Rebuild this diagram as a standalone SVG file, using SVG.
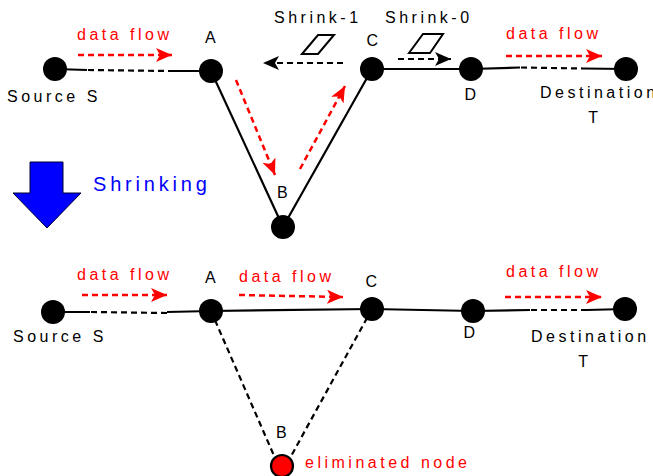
<svg xmlns="http://www.w3.org/2000/svg" width="653" height="476" viewBox="0 0 653 476">
  <style>
    .node { fill: #000; }
    .solid { stroke: #000; stroke-width: 2.2; fill: none; }
    .dash { stroke: #000; stroke-width: 2.2; fill: none; stroke-dasharray: 6 4; }
    .flow { stroke: #ff0000; stroke-width: 2.5; fill: none; stroke-dasharray: 6 4; marker-end: url(#redHead); }
    .shrink { stroke: #000; stroke-width: 2.2; fill: none; stroke-dasharray: 6 4; marker-end: url(#blackHead); }
    .lbl { font-family: "Liberation Sans", Arial, sans-serif; font-size: 16px; fill: #000; letter-spacing: 3.5px; }
    .red { fill: #ff0000; }
    .mid { text-anchor: middle; }
    .token { fill: #fff; stroke: #000; stroke-width: 2; }
  </style>
  <defs>
    <marker id="redHead" markerUnits="userSpaceOnUse" markerWidth="18" markerHeight="16" refX="16" refY="7" orient="auto">
      <path d="M0,0 L16,7 L0,14 L4,7 Z" fill="#ff0000"/>
    </marker>
    <marker id="blackHead" markerUnits="userSpaceOnUse" markerWidth="18" markerHeight="16" refX="16" refY="7" orient="auto">
      <path d="M0,0 L16,7 L0,14 L4,7 Z" fill="#000"/>
    </marker>
  </defs>
  <rect width="653" height="476" fill="#fff"/>

  <!-- ===== Before shrinking ===== -->
  <g id="links-top">
    <polyline class="solid" points="55,69 87,70"/>
    <line class="dash" x1="88" y1="70" x2="168" y2="71"/>
    <line class="solid" x1="168" y1="71" x2="211" y2="71"/>
    <line class="solid" x1="211" y1="71" x2="283" y2="227"/>
    <line class="solid" x1="283" y1="227" x2="372" y2="69"/>
    <line class="solid" x1="372" y1="69" x2="471" y2="69"/>
    <line class="solid" x1="471" y1="69" x2="520" y2="67.5"/>
    <line class="dash" x1="521" y1="67.5" x2="583" y2="68.5"/>
    <line class="solid" x1="583" y1="68.5" x2="626" y2="69"/>
  </g>
  <g id="flows-top">
    <line class="flow" x1="78" y1="55" x2="172" y2="55"/>
    <line class="flow" x1="236" y1="80" x2="275" y2="175"/>
    <line class="flow" x1="300" y1="169" x2="345" y2="86"/>
    <line class="flow" x1="506" y1="56" x2="602" y2="56"/>
    <line class="shrink" x1="343" y1="63" x2="263" y2="63"/>
    <line class="shrink" x1="398" y1="59" x2="451" y2="59"/>
  </g>
  <g id="shrink-tokens">
    <polygon class="token" points="302,54 318,35 334,35 318,54"/>
    <polygon class="token" points="409,53 423,34 443,34 430,53"/>
    <text class="lbl" x="274" y="23">Shrink-1</text>
    <text class="lbl" x="385" y="23">Shrink-0</text>
  </g>
  <g id="S1">
    <circle class="node" cx="55" cy="69" r="12"/>
    <text class="lbl" x="7" y="102">Source S</text>
  </g>
  <g id="A1">
    <circle class="node" cx="211" cy="71" r="12"/>
    <text class="lbl mid" x="212" y="43">A</text>
  </g>
  <g id="B1">
    <circle class="node" cx="283" cy="227" r="12"/>
    <text class="lbl mid" x="284" y="198">B</text>
  </g>
  <g id="C1">
    <circle class="node" cx="372" cy="69" r="12"/>
    <text class="lbl mid" x="374" y="46">C</text>
  </g>
  <g id="D1">
    <circle class="node" cx="471" cy="69" r="12"/>
    <text class="lbl mid" x="472" y="100">D</text>
  </g>
  <g id="T1">
    <circle class="node" cx="626" cy="69" r="12"/>
    <text class="lbl" x="540" y="98">Destination</text>
    <text class="lbl mid" x="595" y="123">T</text>
  </g>
  <g id="flow-labels-top">
    <text class="lbl red" x="77" y="40">data flow</text>
    <text class="lbl red" x="506" y="39">data flow</text>
  </g>

  <!-- ===== Shrinking step ===== -->
  <g id="shrinking">
    <polygon points="30,162 63,162 63,193 81,193 47,228 13,193 30,193" fill="#0000ff" stroke="#000033" stroke-width="1"/>
    <text x="93" y="191" font-family="Liberation Sans, Arial, sans-serif" font-size="20" letter-spacing="3.8" fill="#0000ff">Shrinking</text>
  </g>

  <!-- ===== After shrinking ===== -->
  <g id="links-bottom">
    <line class="solid" x1="53" y1="312" x2="90" y2="312"/>
    <line class="dash" x1="91" y1="312" x2="167" y2="313"/>
    <line class="solid" x1="167" y1="312" x2="211" y2="311"/>
    <line class="solid" x1="211" y1="311" x2="372" y2="309"/>
    <line class="solid" x1="372" y1="309" x2="473" y2="311"/>
    <line class="solid" x1="473" y1="311" x2="530" y2="310"/>
    <line class="dash" x1="531" y1="310" x2="587" y2="310"/>
    <line class="solid" x1="587" y1="310" x2="625" y2="309"/>
    <line class="dash" x1="211" y1="311" x2="275" y2="458"/>
    <line class="dash" x1="372" y1="309" x2="290" y2="458"/>
  </g>
  <g id="flows-bottom">
    <line class="flow" x1="82" y1="295" x2="167" y2="295"/>
    <line class="flow" x1="239" y1="295" x2="343" y2="297"/>
    <line class="flow" x1="505" y1="297" x2="602" y2="297"/>
  </g>
  <g id="S2">
    <circle class="node" cx="53" cy="312" r="12"/>
    <text class="lbl" x="13" y="342">Source S</text>
  </g>
  <g id="A2">
    <circle class="node" cx="211" cy="311" r="12"/>
    <text class="lbl mid" x="212" y="283">A</text>
  </g>
  <g id="B2">
    <circle cx="282" cy="466" r="11" fill="#ff0000" stroke="#000" stroke-width="2.2"/>
    <text class="lbl mid" x="283" y="438">B</text>
    <text class="lbl red" x="305" y="468">eliminated node</text>
  </g>
  <g id="C2">
    <circle class="node" cx="372" cy="309" r="12"/>
    <text class="lbl mid" x="373" y="287">C</text>
  </g>
  <g id="D2">
    <circle class="node" cx="473" cy="311" r="12"/>
    <text class="lbl mid" x="471" y="338">D</text>
  </g>
  <g id="T2">
    <circle class="node" cx="625" cy="309" r="12"/>
    <text class="lbl" x="531" y="342">Destination</text>
    <text class="lbl mid" x="585" y="367">T</text>
  </g>
  <g id="flow-labels-bottom">
    <text class="lbl red" x="77" y="280">data flow</text>
    <text class="lbl red" x="239" y="282">data flow</text>
    <text class="lbl red" x="506" y="277">data flow</text>
  </g>
</svg>
